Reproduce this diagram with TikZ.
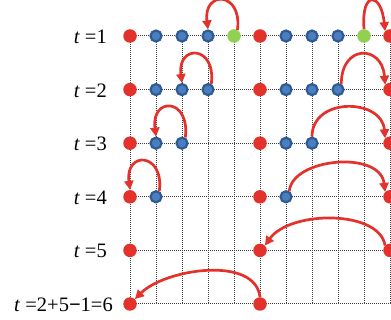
\documentclass[tikz,border=0pt]{standalone}
\usepackage{fontspec}
\setmainfont{Liberation Serif}
\usetikzlibrary{arrows.meta}
\definecolor{cred}{HTML}{E3312B}
\definecolor{cblue}{HTML}{4A7EBF}
\definecolor{cbluedark}{HTML}{2F5B94}
\definecolor{cgreen}{HTML}{92D050}
\definecolor{cgrid}{HTML}{404040}
\tikzset{
  rn/.style={circle,fill=cred,inner sep=0pt,minimum size=13.5pt},
  bn/.style={circle,fill=cblue,draw=cbluedark,line width=2.2pt,inner sep=0pt,minimum size=11pt},
  gn/.style={circle,fill=cgreen,inner sep=0pt,minimum size=13.5pt},
  gridline/.style={cgrid,densely dotted,line width=1pt},
  arr/.style={cred,line width=2.7pt,-{Triangle[length=9pt,width=9pt]}},
  lab/.style={anchor=base east,inner sep=0pt,font=\fontsize{20.5}{22}\selectfont},
}
\begin{document}
\begin{tikzpicture}[x=1pt,y=-1pt]
\useasboundingbox (0,0) rectangle (391,320);
% grid coordinates
\foreach \r/\y in {1/36,2/89.6,3/143.2,4/196.8,5/250.4,6/304}{
  \foreach \c in {0,...,10}{
    \coordinate (p\r-\c) at ({130+26*\c},\y);
  }
  \coordinate (e\r) at (391,\y);
}
\foreach \r in {1,...,6}{ \draw[gridline] (p\r-0) -- (e\r); }
\foreach \c in {0,...,10}{ \draw[gridline] (p1-\c) -- (p6-\c); }
% row 1
\node[rn] (a1-0) at (p1-0) {};
\node[bn] (a1-1) at (p1-1) {};
\node[bn] (a1-2) at (p1-2) {};
\node[bn] (a1-3) at (p1-3) {};
\node[gn] (a1-4) at (p1-4) {};
\node[rn] (a1-5) at (p1-5) {};
\node[bn] (a1-6) at (p1-6) {};
\node[bn] (a1-7) at (p1-7) {};
\node[bn] (a1-8) at (p1-8) {};
\node[gn] (a1-9) at (p1-9) {};
\node[rn] (a1-10) at (p1-10) {};
% row 2
\node[rn] (a2-0) at (p2-0) {};
\node[bn] (a2-1) at (p2-1) {};
\node[bn] (a2-2) at (p2-2) {};
\node[bn] (a2-3) at (p2-3) {};
\node[rn] (a2-5) at (p2-5) {};
\node[bn] (a2-6) at (p2-6) {};
\node[bn] (a2-7) at (p2-7) {};
\node[bn] (a2-8) at (p2-8) {};
\node[rn] (a2-10) at (p2-10) {};
% row 3
\node[rn] (a3-0) at (p3-0) {};
\node[bn] (a3-1) at (p3-1) {};
\node[bn] (a3-2) at (p3-2) {};
\node[rn] (a3-5) at (p3-5) {};
\node[bn] (a3-6) at (p3-6) {};
\node[bn] (a3-7) at (p3-7) {};
\node[rn] (a3-10) at (p3-10) {};
% row 4
\node[rn] (a4-0) at (p4-0) {};
\node[bn] (a4-1) at (p4-1) {};
\node[rn] (a4-5) at (p4-5) {};
\node[bn] (a4-6) at (p4-6) {};
\node[rn] (a4-10) at (p4-10) {};
% row 5
\node[rn] (a5-0) at (p5-0) {};
\node[rn] (a5-5) at (p5-5) {};
\node[rn] (a5-10) at (p5-10) {};
% row 6
\node[rn] (a6-0) at (p6-0) {};
\node[rn] (a6-5) at (p6-5) {};
% labels
\node[lab] (l1) at (107,43.5) {\textit{t} =1};
\node[lab] (l2) at (107,97.1) {\textit{t} =2};
\node[lab] (l3) at (107,150.7) {\textit{t} =3};
\node[lab] (l4) at (107,204.3) {\textit{t} =4};
\node[lab] (l5) at (107,257.9) {\textit{t} =5};
\node[lab] (l6) at (113,311.5) {\textit{t} =2+5\textbf{−}1=6};
% arrows
\draw[arr] (a1-4.60) .. controls +(5,-39) and +(-5,-39) .. (a1-3.north);
\draw[arr] (a1-9.north) .. controls +(-3,-39) and +(-4,-39) .. (a1-10.north west);
\draw[arr] (a2-3.60) .. controls +(5,-39) and +(-5,-39) .. (a2-2.north);
\draw[arr] (a2-8.60) .. controls +(0,-40) and +(-3,-40) .. (a2-10.north west);
\draw[arr] (a3-2.60) .. controls +(5,-40) and +(-5,-40) .. (a3-1.north);
\draw[arr] (a3-7.north) .. controls +(0,-40) and +(-3,-40) .. (a3-10.north west);
\draw[arr] (a4-1.60) .. controls +(5,-39) and +(-5,-39) .. (a4-0.north);
\draw[arr] (a4-6.60) .. controls +(3,-33) and +(-5,-42) .. (a4-10.north west);
\draw[arr] (a5-10.north west) .. controls +(-6,-36) and +(25,-35) .. (a5-5.north east);
\draw[arr] (a6-5.north) .. controls +(-5,-42) and +(30,-30) .. (a6-0.north east);
\end{tikzpicture}
\end{document}
